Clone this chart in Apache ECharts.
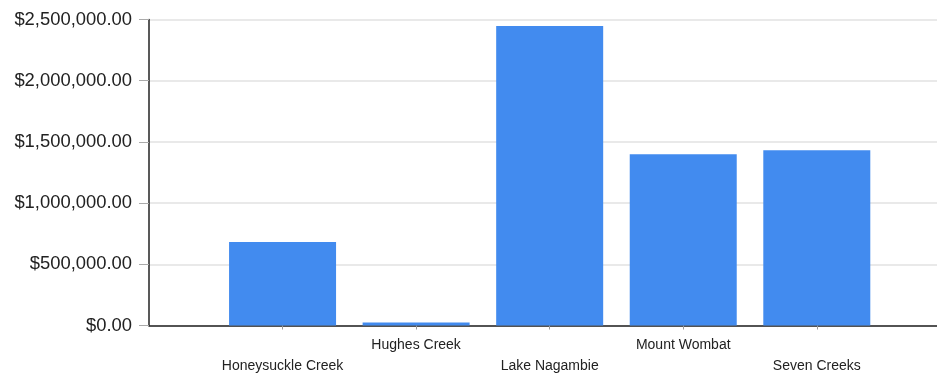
<!DOCTYPE html>
<html>
<head>
<meta charset="utf-8">
<script src="https://cdn.jsdelivr.net/npm/echarts@6/dist/echarts.min.js"></script>
<style>
  html, body { margin: 0; padding: 0; background: #ffffff; }
  #chart { width: 937px; height: 373px; }
</style>
</head>
<body>
<div id="chart"></div>
<script>
// Reserve names and their totals
const categories = ['Honeysuckle Creek', 'Hughes Creek', 'Lake Nagambie', 'Mount Wombat', 'Seven Creeks'];
const amounts = [682000, 25000, 2447000, 1399000, 1432000];
const yMax = 2500000;
const yStep = 500000;

function money(v) {
  const whole = Math.round(v).toString().replace(/\B(?=(\d{3})+(?!\d))/g, ',');
  return '$' + whole + '.00';
}

const positions = categories.map((_, i) => i);
const chart = echarts.init(document.getElementById('chart'), null, { renderer: 'canvas' });

chart.setOption({
  animation: false,
  backgroundColor: '#ffffff',
  grid: { left: 149, right: 0, top: 19.5, bottom: 47.5, containLabel: false, outerBoundsMode: 'none' },
  xAxis: {
    type: 'value',
    min: -1,
    max: 4.9,
    axisLine: { show: true, onZero: false, lineStyle: { color: '#222222', width: 1.5 } },
    axisTick: { show: true, customValues: positions, length: 4, lineStyle: { color: '#999999' } },
    splitLine: { show: false },
    axisLabel: {
      customValues: positions,
      margin: 9,
      fontFamily: 'Liberation Sans, Arial, sans-serif',
      fontSize: 14,
      lineHeight: 21,
      color: '#222222',
      formatter: function (val) {
        const i = Math.round(val);
        const name = categories[i] || '';
        return i % 2 === 0 ? '\n' + name : name;
      }
    }
  },
  yAxis: {
    type: 'value',
    min: 0,
    max: yMax,
    interval: yStep,
    axisLine: { show: true, onZero: false, lineStyle: { color: '#222222', width: 1.5 } },
    axisTick: { show: true, length: 10, lineStyle: { color: '#aaaaaa' } },
    splitLine: { show: true, lineStyle: { color: '#e2e2e2', width: 1.5 } },
    axisLabel: {
      margin: 17,
      fontFamily: 'Liberation Sans, Arial, sans-serif',
      fontSize: 18.4,
      color: '#222222',
      formatter: money
    }
  },
  series: [{
    type: 'bar',
    barWidth: 107,
    itemStyle: { color: '#428bef' },
    data: positions.map(i => [i, amounts[i]])
  }]
});
</script>
</body>
</html>
